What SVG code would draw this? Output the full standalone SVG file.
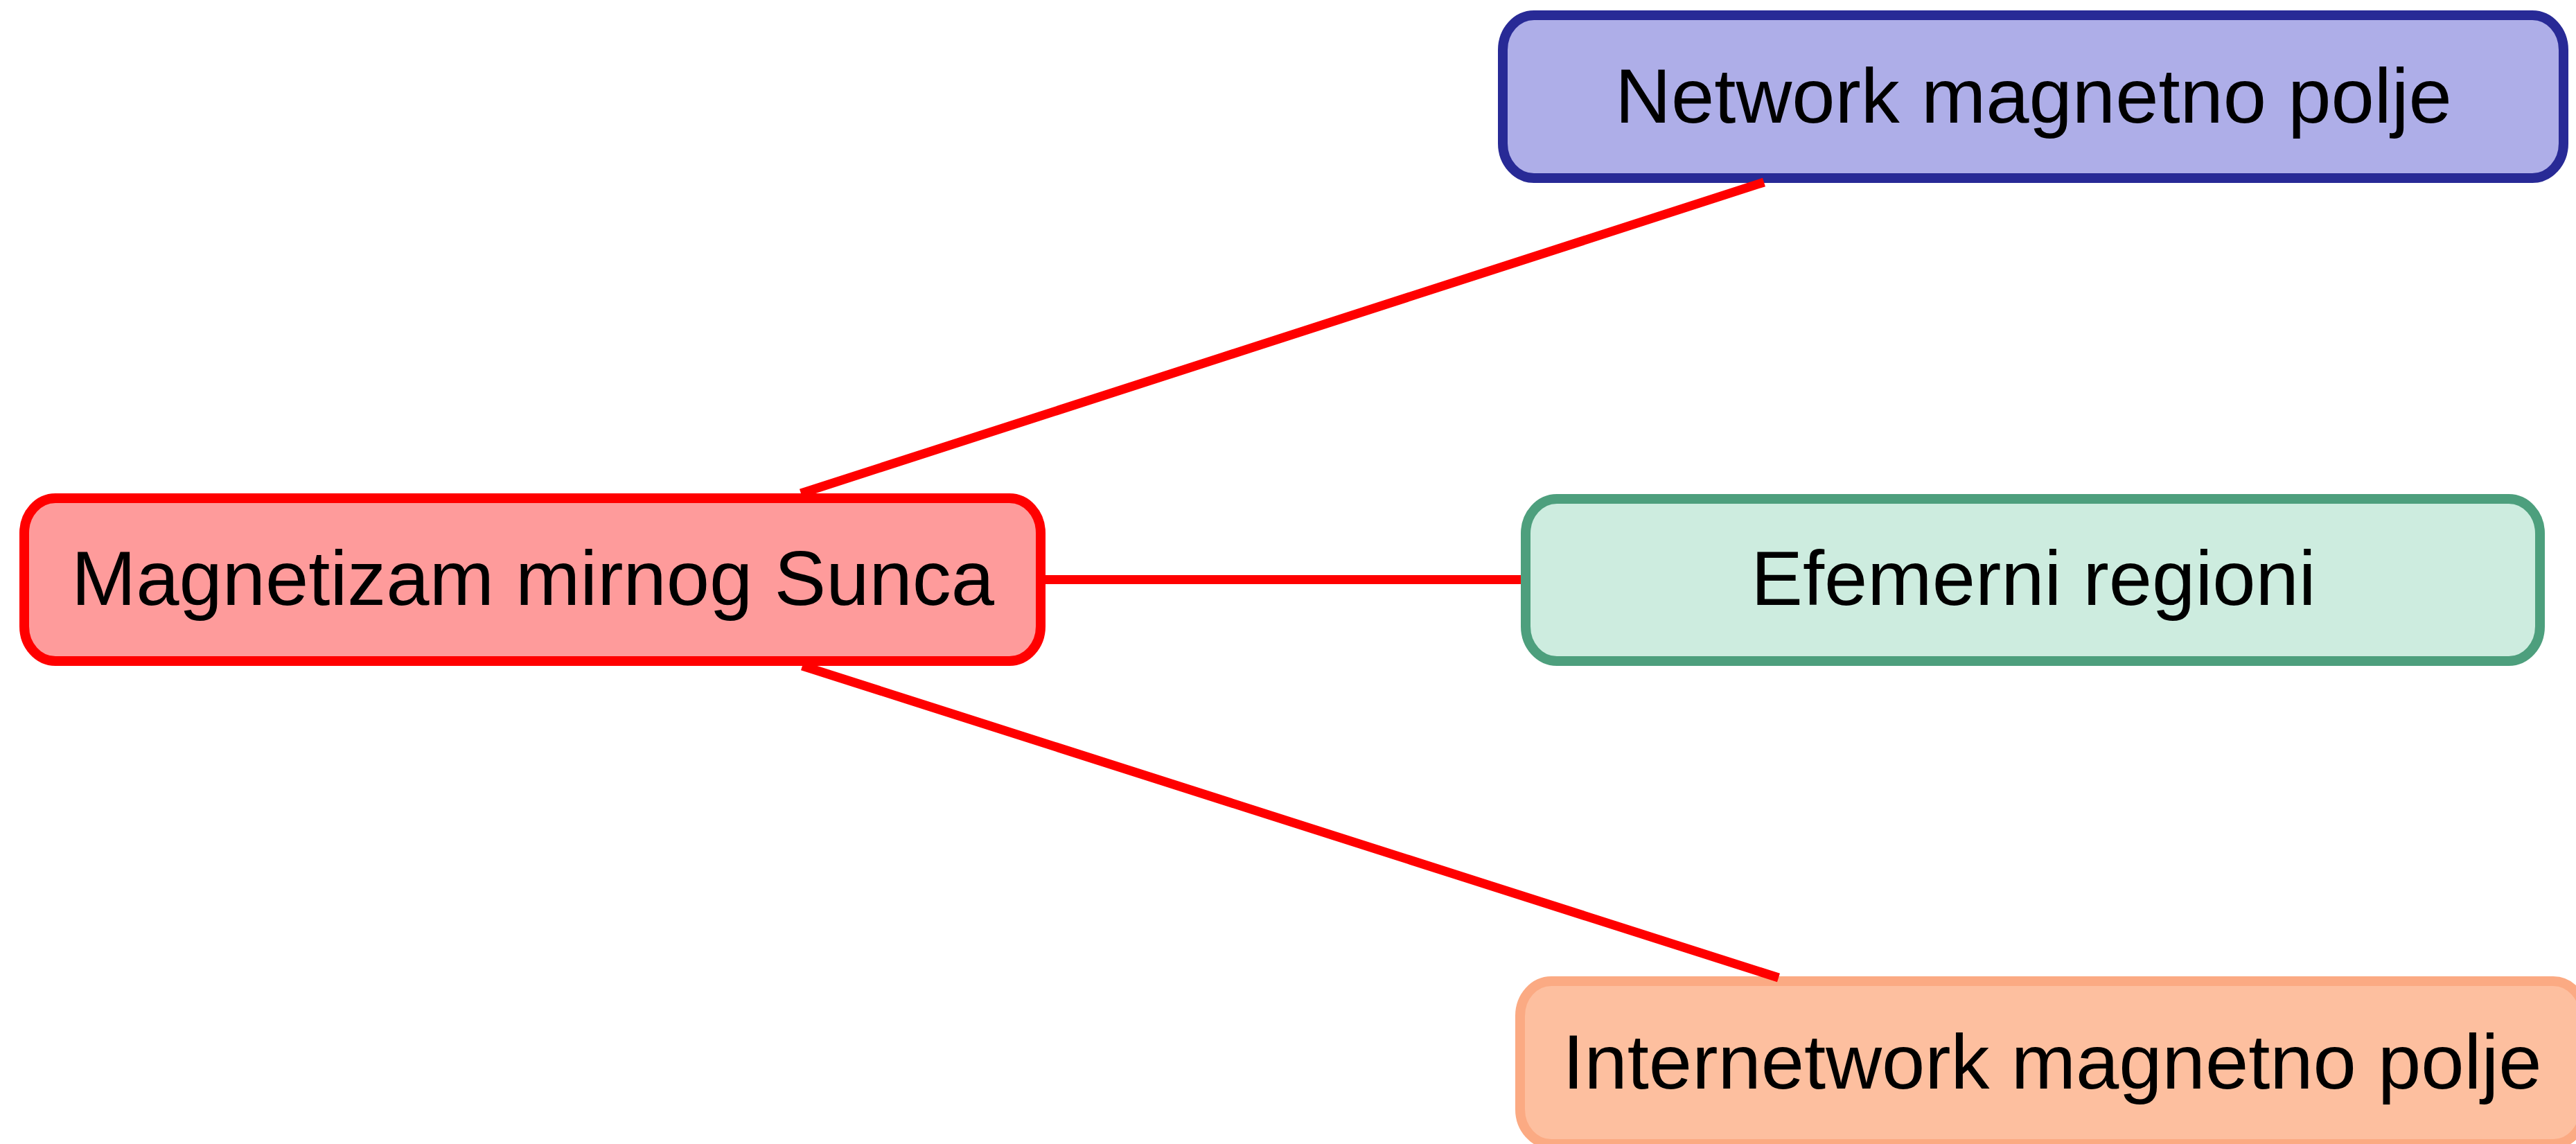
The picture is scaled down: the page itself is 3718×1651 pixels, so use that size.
<svg xmlns="http://www.w3.org/2000/svg" width="3718" height="1651" viewBox="0 0 3718 1651">
<style>
.box{stroke-width:14}
.lbl{font-family:"Liberation Sans",Arial,sans-serif;font-size:112px;fill:#000;text-anchor:middle}
.conn{stroke:#ff0000;stroke-width:13;fill:none}
</style>
<rect width="3718" height="1651" fill="#ffffff"/>
<g id="node-network">
<rect class="box" x="2169" y="22" width="1531" height="235" rx="45" ry="50" fill="#aeaee8" stroke="#282a96"/>
<text class="lbl" x="2935" y="177">Network magnetno polje</text>
</g>
<g id="node-magnetizam">
<rect class="box" x="35" y="719" width="1467" height="235" rx="45" ry="50" fill="#fe9b9b" stroke="#ff0000"/>
<text class="lbl" x="769" y="873">Magnetizam mirnog Sunca</text>
</g>
<g id="node-efemerni">
<rect class="box" x="2202" y="720" width="1464" height="234" rx="45" ry="50" fill="#cdecdf" stroke="#4d9f7d"/>
<text class="lbl" x="2935" y="873">Efemerni regioni</text>
</g>
<g id="node-internetwork">
<rect class="box" x="2194" y="1416" width="1536" height="235" rx="45" ry="50" fill="#fdbf9f" stroke="#fbaa83"/>
<text class="lbl" x="2962" y="1571">Internetwork magnetno polje</text>
</g>
<g id="connectors">
<line class="conn" x1="1156" y1="712" x2="2546" y2="263"/>
<line class="conn" x1="1509" y1="836.5" x2="2195" y2="836.5"/>
<line class="conn" x1="1158" y1="961" x2="2567" y2="1411"/>
</g>
</svg>
